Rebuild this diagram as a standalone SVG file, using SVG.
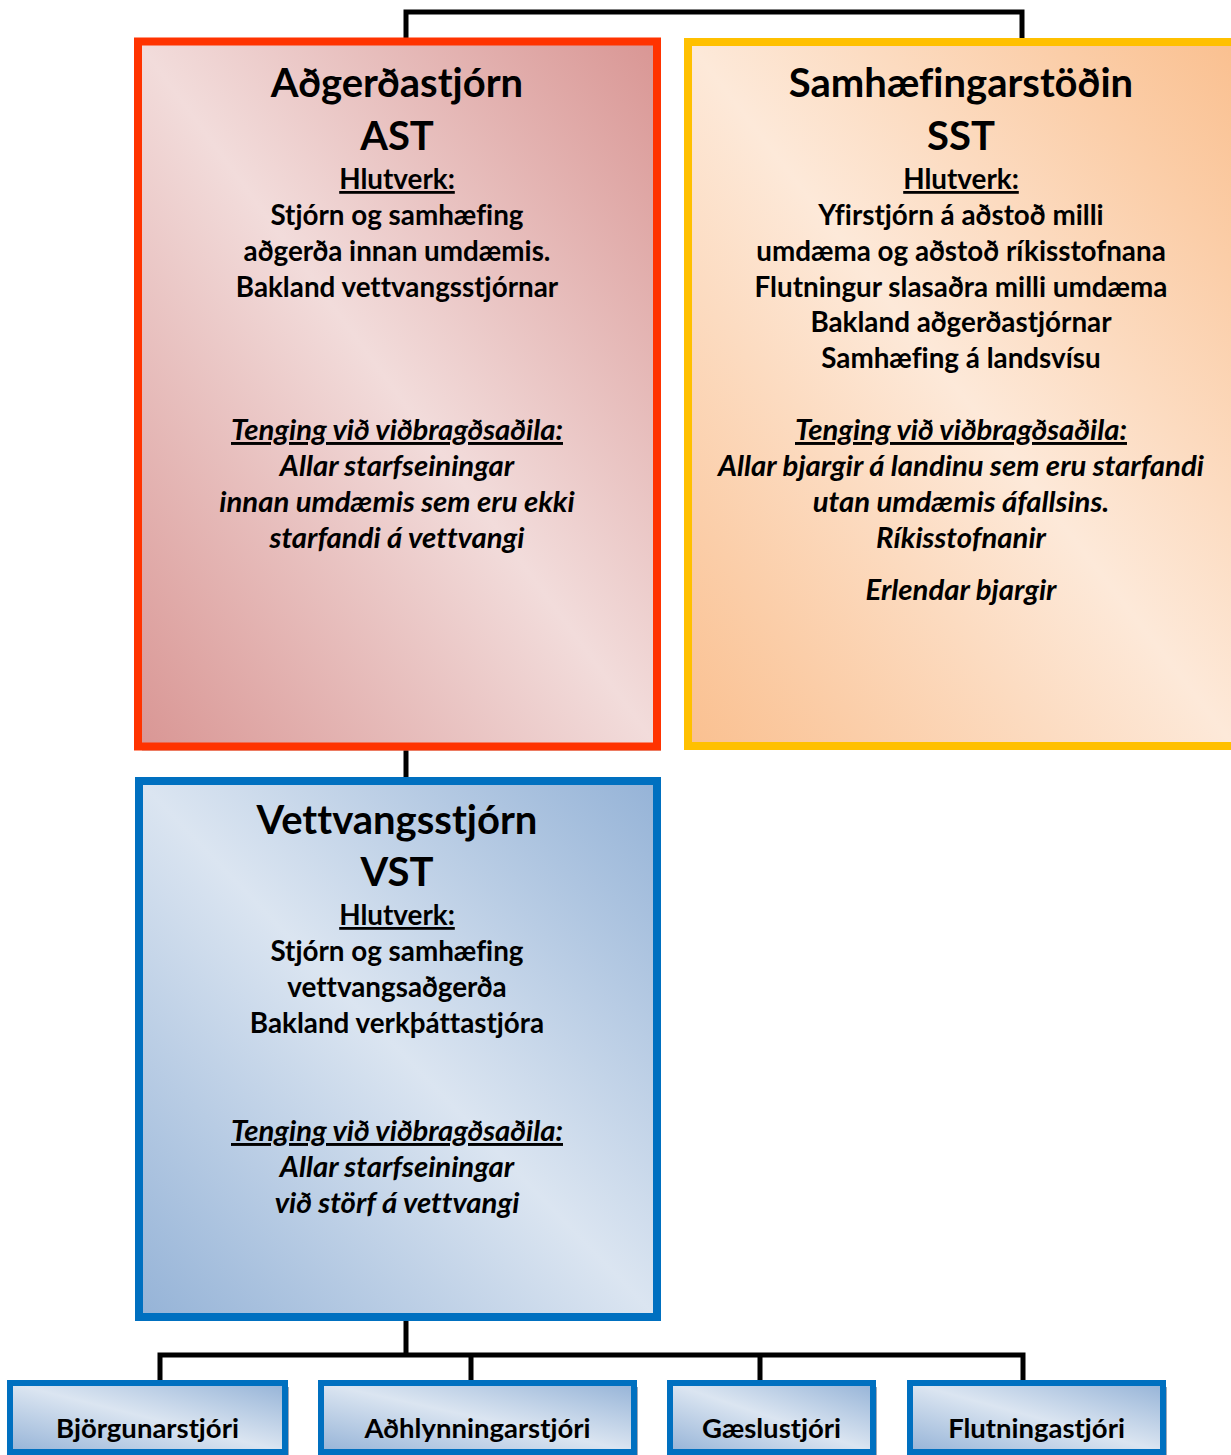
<svg xmlns="http://www.w3.org/2000/svg" width="1231" height="1455" viewBox="0 0 1231 1455">
<defs>
<linearGradient id="gRed" x1="1" y1="0" x2="0" y2="1"><stop offset="0" stop-color="#d99694"/><stop offset="0.5" stop-color="#f2dcdb"/><stop offset="1" stop-color="#d99694"/></linearGradient>
<linearGradient id="gYel" x1="1" y1="0" x2="0" y2="1"><stop offset="0" stop-color="#fac090"/><stop offset="0.5" stop-color="#fde9d9"/><stop offset="1" stop-color="#fac090"/></linearGradient>
<linearGradient id="gBlue" x1="1" y1="0" x2="0" y2="1"><stop offset="0" stop-color="#95b3d7"/><stop offset="0.5" stop-color="#dbe5f1"/><stop offset="1" stop-color="#95b3d7"/></linearGradient>
<style>
text{font-family:Lato,"Liberation Sans",sans-serif;font-weight:bold;fill:#000;text-anchor:middle;font-variant-ligatures:none}
.t{font-size:40px}
.b{font-size:27.8px}
.s{font-size:27.5px}
.u{text-decoration:underline}
.i{font-style:italic;font-size:29.3px}
.conn{stroke:#000;stroke-width:5;fill:none}
</style>
</defs>
<g id="connectors">
<path class="conn" d="M406,40 V12 H1022 V40"/>
<path class="conn" d="M406,748 V779"/>
<path class="conn" d="M406,1320 V1355 M160,1382 V1355 H1023 V1382 M471,1355 V1382 M760,1355 V1382"/>
</g>
<g id="ast">
<rect x="142" y="45.5" width="519" height="705" fill="#b38f8e"/>
<rect x="138" y="41.5" width="519" height="705" fill="url(#gRed)" stroke="#ff3300" stroke-width="8"/>
<text class="t" x="397" y="97">Aðgerðastjórn</text>
<text class="t" x="397" y="150">AST</text>
<text class="b u" x="397" y="189">Hlutverk:</text>
<text class="b" x="397" y="225">Stjórn og samhæfing</text>
<text class="b" x="397" y="261">aðgerða innan umdæmis.</text>
<text class="b" x="397" y="297">Bakland vettvangsstjórnar</text>
<text class="b i u" x="397" y="440">Tenging við viðbragðsaðila:</text>
<text class="b i" x="397" y="476">Allar starfseiningar</text>
<text class="b i" x="397" y="512">innan umdæmis sem eru ekki</text>
<text class="b i" x="397" y="548">starfandi á vettvangi</text>
</g>
<g id="sst">
<rect x="692" y="46" width="547" height="704" fill="#c9a07f"/>
<rect x="688" y="42" width="547" height="704" fill="url(#gYel)" stroke="#ffc000" stroke-width="8"/>
<text class="t" x="961" y="97">Samhæfingarstöðin</text>
<text class="t" x="961" y="150">SST</text>
<text class="b u" x="961" y="189">Hlutverk:</text>
<text class="b" x="961" y="225">Yfirstjórn á aðstoð milli</text>
<text class="b" x="961" y="261">umdæma og aðstoð ríkisstofnana</text>
<text class="b" x="961" y="297">Flutningur slasaðra milli umdæma</text>
<text class="b" x="961" y="332">Bakland aðgerðastjórnar</text>
<text class="b" x="961" y="368">Samhæfing á landsvísu</text>
<text class="b i u" x="961" y="440">Tenging við viðbragðsaðila:</text>
<text class="b i" x="961" y="476">Allar bjargir á landinu sem eru starfandi</text>
<text class="b i" x="961" y="512">utan umdæmis áfallsins.</text>
<text class="b i" x="961" y="548">Ríkisstofnanir</text>
<text class="b i" x="961" y="600">Erlendar bjargir</text>
</g>
<g id="vst">
<rect x="143" y="785" width="518" height="536" fill="#97a2b5"/>
<rect x="139" y="781" width="518" height="536" fill="url(#gBlue)" stroke="#0070c0" stroke-width="8"/>
<text class="t" x="397" y="834">Vettvangsstjórn</text>
<text class="t" x="397" y="886">VST</text>
<text class="b u" x="397" y="925">Hlutverk:</text>
<text class="b" x="397" y="961">Stjórn og samhæfing</text>
<text class="b" x="397" y="997">vettvangsaðgerða</text>
<text class="b" x="397" y="1033">Bakland verkþáttastjóra</text>
<text class="b i u" x="397" y="1141">Tenging við viðbragðsaðila:</text>
<text class="b i" x="397" y="1177">Allar starfseiningar</text>
<text class="b i" x="397" y="1213">við störf á vettvangi</text>
</g>
<g id="bjorgunarstjori">
<rect x="14" y="1387" width="275" height="69" fill="#a0a8b8"/>
<rect x="10" y="1383" width="275" height="69" fill="url(#gBlue)" stroke="#0070c0" stroke-width="6"/>
<text class="s" x="147.5" y="1438">Björgunarstjóri</text>
</g>
<g id="adhlynningarstjori">
<rect x="325" y="1387" width="313" height="69" fill="#a0a8b8"/>
<rect x="321" y="1383" width="313" height="69" fill="url(#gBlue)" stroke="#0070c0" stroke-width="6"/>
<text class="s" x="477.5" y="1438">Aðhlynningarstjóri</text>
</g>
<g id="gaeslustjori">
<rect x="674" y="1387" width="203" height="69" fill="#a0a8b8"/>
<rect x="670" y="1383" width="203" height="69" fill="url(#gBlue)" stroke="#0070c0" stroke-width="6"/>
<text class="s" x="771.5" y="1438">Gæslustjóri</text>
</g>
<g id="flutningastjori">
<rect x="914" y="1387" width="253" height="69" fill="#a0a8b8"/>
<rect x="910" y="1383" width="253" height="69" fill="url(#gBlue)" stroke="#0070c0" stroke-width="6"/>
<text class="s" x="1036.5" y="1438">Flutningastjóri</text>
</g>
</svg>
